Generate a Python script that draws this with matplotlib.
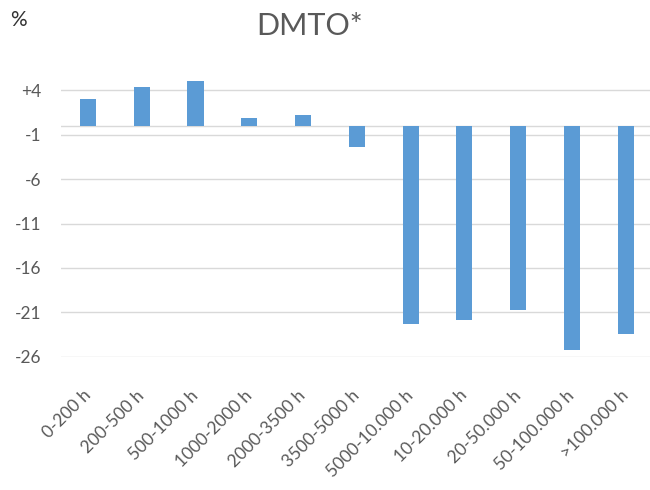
import matplotlib.pyplot as plt

# data
categories = ['0-200 h', '200-500 h', '500-1000 h', '1000-2000 h', '2000-3500 h',
              '3500-5000 h', '5000-10.000 h', '10-20.000 h', '20-50.000 h',
              '50-100.000 h', '>100.000 h']
values = [3.05, 4.4, 5.05, 0.9, 1.27, -2.44, -22.3, -21.9, -20.7, -25.2, -23.4]
y_ticks = [4, -1, -6, -11, -16, -21, -26]
y_tick_labels = ['+4', '-1', '-6', '-11', '-16', '-21', '-26']

plt.rcParams['font.family'] = ['Lato', 'DejaVu Sans']
text_color = '#595959'
grid_color = '#d9d9d9'

fig = plt.figure(figsize=(6.5, 4.9), dpi=100)
ax = fig.add_axes([0.094, 0.272, 0.91, 0.58])

x = list(range(len(categories)))
ax.bar(x, values, width=0.3, color='#5B9BD5', zorder=3)

ax.set_xlim(-0.5, len(categories) - 0.5)
ax.set_ylim(-26, 6)
ax.set_yticks(y_ticks)
ax.set_yticklabels(y_tick_labels, fontsize=12.5, color=text_color)
ax.yaxis.grid(True, color=grid_color, linewidth=1, zorder=0)
ax.axhline(0, color=grid_color, linewidth=1, zorder=1)

ax.set_xticks(x)
ax.set_xticklabels(categories, rotation=45, ha='right', va='center',
                   rotation_mode='anchor', fontsize=12.5, color=text_color)
ax.tick_params(axis='x', length=0, pad=26)
ax.tick_params(axis='y', length=0, pad=14)

for side in ['top', 'right', 'left', 'bottom']:
    ax.spines[side].set_visible(False)

fig.text(0.477, 0.947, 'DMTO*', fontsize=22, color=text_color, ha='center', va='center')
fig.text(0.016, 0.959, '%', fontsize=15, color='#333333', ha='left', va='center')

fig.savefig('out.png', dpi=100)
